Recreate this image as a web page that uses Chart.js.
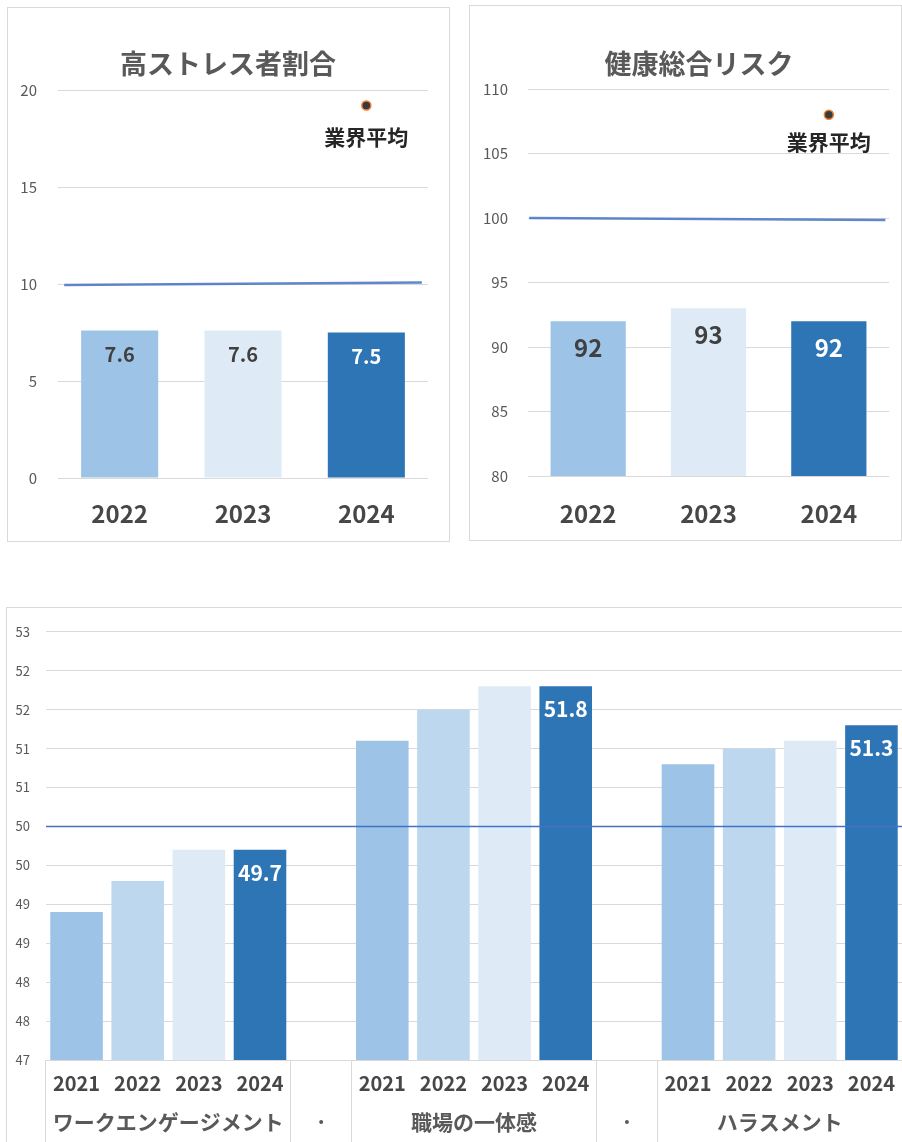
<!DOCTYPE html>
<html lang="ja">
<head>
<meta charset="utf-8">
<title>ストレスチェック結果</title>
<script src="https://cdn.jsdelivr.net/npm/chart.js@4.4.1/dist/chart.umd.min.js"></script>
<style>
  html, body { margin: 0; padding: 0; background: #fff; overflow: hidden; }
  body { position: relative; width: 902px; height: 1142px; }
  .panel { position: absolute; box-sizing: border-box; border: 1px solid #d9d9d9; overflow: hidden; }
  .panel canvas { position: absolute; left: 0; top: 0; }
  #p1 { left: 7px; top: 7px; width: 443px; height: 535px; }
  #p2 { left: 469px; top: 5px; width: 433px; height: 536px; }
  #p3 { left: 6px; top: 607px; width: 897px; height: 536px; }
</style>
</head>
<body>
<div class="panel" id="p1"><canvas id="c1" width="440" height="532"></canvas></div>
<div class="panel" id="p2"><canvas id="c2" width="458" height="534"></canvas></div>
<div class="panel" id="p3"><canvas id="c3" width="895" height="534"></canvas></div>
<script>
// 高ストレス者割合
const stressYears = ['2022', '2023', '2024'];
const stressValues = [7.6, 7.6, 7.5];
const stressAvgLine = [9.95, 10.08];
const stressAvgPoint = 19.2;
const stressTicks = [0, 5, 10, 15, 20];

// 健康総合リスク
const riskYears = ['2022', '2023', '2024'];
const riskValues = [92, 93, 92];
const riskAvgLine = [100, 99.85];
const riskAvgPoint = 108;
const riskTicks = [80, 85, 90, 95, 100, 105, 110];

// 組織診断（偏差値）
const surveyYears = ['2021', '2022', '2023', '2024'];
const surveyGroups = ['ワークエンゲージメント', '職場の一体感', 'ハラスメント'];
const engagementValues = [48.9, 49.3, 49.7, 49.7];
const unityValues = [51.1, 51.5, 51.8, 51.8];
const harassmentValues = [50.8, 51.0, 51.1, 51.3];
const surveyAvg = 50;
const surveyTicks = [47, 47.5, 48, 48.5, 49, 49.5, 50, 50.5, 51, 51.5, 52, 52.5];

const colors3 = ['#9DC3E6', '#DEEBF7', '#2E75B6'];
const colors4 = ['#9DC3E6', '#BDD7EE', '#DEEBF7', '#2E75B6'];

const FONT = "'Noto Sans CJK JP', 'Noto Sans', sans-serif";
const GRID = '#d9d9d9';
Chart.defaults.font.family = FONT;
Chart.defaults.color = '#595959';
Chart.defaults.animation = false;

// value text drawn inside the top of each bar
const barValueLabels = {
  id: 'barValueLabels',
  afterDatasetsDraw(chart, args, opts) {
    const ctx = chart.ctx;
    chart.data.datasets.forEach((ds, di) => {
      if (!ds.valueText) return;
      chart.getDatasetMeta(di).data.forEach((bar, i) => {
        const txt = ds.valueText[i];
        if (!txt) return;
        ctx.save();
        ctx.font = `bold ${opts.size}px ${FONT}`;
        ctx.fillStyle = ds.valueColor[i];
        ctx.textAlign = 'center';
        ctx.textBaseline = 'middle';
        ctx.fillText(txt, bar.x, bar.y + opts.offset);
        ctx.restore();
      });
    });
  }
};

// caption under the 業界平均 marker
const markerCaption = {
  id: 'markerCaption',
  afterDatasetsDraw(chart, args, opts) {
    const ctx = chart.ctx;
    chart.data.datasets.forEach((ds, di) => {
      if (!ds.caption) return;
      const pt = chart.getDatasetMeta(di).data[0];
      ctx.save();
      ctx.font = `bold 21px ${FONT}`;
      ctx.fillStyle = '#262626';
      ctx.textAlign = 'center';
      ctx.textBaseline = 'middle';
      ctx.fillText(ds.caption, pt.x, pt.y + opts.offset);
      ctx.restore();
    });
  }
};

function makeTopChart(id, o) {
  const last = o.years.length - 1;
  return new Chart(document.getElementById(id), {
    type: 'bar',
    data: {
      labels: o.years,
      datasets: [
        {
          type: 'line', xAxisID: 'xl', order: 1,
          data: [{ x: o.span[0], y: o.avgLine[0] }, { x: o.span[1], y: o.avgLine[1] }],
          borderColor: 'rgba(68,114,196,0.85)', borderWidth: 2.5, pointRadius: 0
        },
        {
          type: 'line', xAxisID: 'xl', order: 0, showLine: false, caption: '業界平均',
          data: [{ x: last, y: o.avgPoint }],
          pointRadius: 4.5, pointBackgroundColor: '#3a3a3a',
          pointBorderColor: '#ED7D31', pointBorderWidth: 1.5
        },
        {
          order: 2, grouped: false, data: o.values, backgroundColor: colors3,
          barPercentage: 0.625, categoryPercentage: 1,
          valueText: o.values.map(v => o.fmt(v)),
          valueColor: o.values.map((v, i) => i === last ? '#ffffff' : '#404040')
        }
      ]
    },
    options: {
      responsive: false,
      layout: { padding: 0 },
      plugins: {
        legend: { display: false },
        tooltip: { enabled: false },
        title: {
          display: true, text: o.title, color: '#595959',
          font: { size: 27, weight: 'bold' },
          padding: { top: o.titleTop, bottom: o.titleBottom }
        },
        barValueLabels: { size: o.valueSize, offset: o.valueOffset },
        markerCaption: { offset: o.captionOffset }
      },
      scales: {
        x: {
          grid: { display: false, drawTicks: false }, border: { display: false },
          ticks: { color: '#474747', font: { size: 24, weight: 'bold' }, padding: o.xPad, maxRotation: 0, autoSkip: false },
          afterFit: s => { s.height = o.xHeight; }
        },
        xl: { type: 'linear', display: false, min: -0.5, max: last + 0.5, offset: false, grid: { offset: false } },
        y: {
          min: o.ticks[0], max: o.ticks[o.ticks.length - 1], beginAtZero: false,
          afterBuildTicks: s => { s.ticks = o.ticks.map(v => ({ value: v })); },
          ticks: { font: { size: 15 }, color: '#595959', padding: o.yPad },
          grid: { color: GRID, drawTicks: false }, border: { display: false },
          afterFit: s => { s.width = o.yWidth; }
        },
        // empty strip on the right of the plot
        yr: {
          type: 'linear', position: 'right',
          grid: { display: false, drawTicks: false }, border: { display: false },
          ticks: { display: false },
          afterFit: s => { s.width = o.rightWidth; }
        }
      }
    },
    plugins: [barValueLabels, markerCaption]
  });
}

makeTopChart('c1', {
  title: '高ストレス者割合', years: stressYears, values: stressValues,
  avgLine: stressAvgLine, avgPoint: stressAvgPoint, ticks: stressTicks, span: [-0.45, 2.45],
  fmt: v => v.toFixed(1), valueSize: 20, valueOffset: 23.6, captionOffset: 31,
  yWidth: 50, yPad: 21, rightWidth: 20,
  titleTop: 39.3, titleBottom: 10.3, xHeight: 62, xPad: 21.2
});

makeTopChart('c2', {
  title: '健康総合リスク', years: riskYears, values: riskValues,
  avgLine: riskAvgLine, avgPoint: riskAvgPoint, ticks: riskTicks, span: [-0.49, 2.47],
  fmt: v => v.toFixed(0), valueSize: 24, valueOffset: 27, captionOffset: 27.5,
  yWidth: 58, yPad: 20, rightWidth: 39,
  titleTop: 41.3, titleBottom: 9.3, xHeight: 64, xPad: 23.2
});

// bottom chart: three groups of four years with a blank slot between groups
const groupValues = [engagementValues, unityValues, harassmentValues];
const surveyLabels = [], surveyValues = [], surveyColors = [], surveyText = [];
const groupTicks = [];
const separators = [0];
groupValues.forEach((vals, g) => {
  if (g > 0) {
    groupTicks.push({ value: surveyLabels.length, label: '·' });
    separators.push(surveyLabels.length);
    surveyLabels.push(''); surveyValues.push(null); surveyColors.push('transparent'); surveyText.push('');
    separators.push(surveyLabels.length);
  }
  groupTicks.push({ value: surveyLabels.length + (vals.length - 1) / 2, label: surveyGroups[g] });
  vals.forEach((v, i) => {
    surveyLabels.push(surveyYears[i]);
    surveyValues.push(v);
    surveyColors.push(colors4[i]);
    surveyText.push(i === vals.length - 1 ? v.toFixed(1) : '');
  });
});
separators.push(surveyLabels.length);
const lastSlot = surveyLabels.length - 1;

new Chart(document.getElementById('c3'), {
  type: 'bar',
  data: {
    labels: surveyLabels,
    datasets: [
      {
        type: 'line', xAxisID: 'xg', order: 1,
        data: [{ x: -0.5, y: surveyAvg }, { x: lastSlot + 0.5, y: surveyAvg }],
        borderColor: '#4472C4', borderWidth: 1.5, pointRadius: 0
      },
      {
        order: 2, grouped: false, data: surveyValues, backgroundColor: surveyColors,
        barPercentage: 0.86, categoryPercentage: 1,
        valueText: surveyText, valueColor: surveyText.map(() => '#ffffff')
      }
    ]
  },
  options: {
    responsive: false,
    layout: { padding: { top: 16, left: 0, right: 0, bottom: 0 } },
    plugins: {
      legend: { display: false },
      tooltip: { enabled: false },
      barValueLabels: { size: 21, offset: 23 }
    },
    scales: {
      x: {
        weight: 0,
        grid: {
          drawOnChartArea: false, drawTicks: true, tickLength: 82, lineWidth: 1,
          color: c => c.type !== 'tick' || separators.includes(c.index) ? GRID : 'rgba(0,0,0,0)'
        },
        border: { display: false },
        ticks: { color: '#474747', font: { size: 20, weight: 'bold' }, padding: -70.4, autoSkip: false, maxRotation: 0 },
        afterFit: s => { s.height = 44; }
      },
      xg: {
        type: 'linear', position: 'bottom', weight: 1,
        min: -0.5, max: lastSlot + 0.5, offset: false,
        grid: { display: false, drawTicks: false, offset: false }, border: { display: false },
        afterBuildTicks: s => { s.ticks = groupTicks.map(t => ({ value: t.value })); },
        ticks: {
          callback: (v, i) => groupTicks[i].label,
          color: '#595959', font: { size: 21, weight: 'bold' }, padding: 5.4, autoSkip: false, maxRotation: 0
        },
        afterFit: s => { s.height = 38; }
      },
      y: {
        min: surveyTicks[0], max: surveyTicks[surveyTicks.length - 1], beginAtZero: false,
        afterBuildTicks: s => { s.ticks = surveyTicks.map(v => ({ value: v })); },
        ticks: { font: { size: 13 }, color: '#595959', padding: 16, callback: v => Math.round(v) },
        grid: { color: GRID, drawTicks: false }, border: { display: false },
        afterFit: s => { s.width = 39; }
      }
    }
  },
  plugins: [barValueLabels]
});
</script>
</body>
</html>
